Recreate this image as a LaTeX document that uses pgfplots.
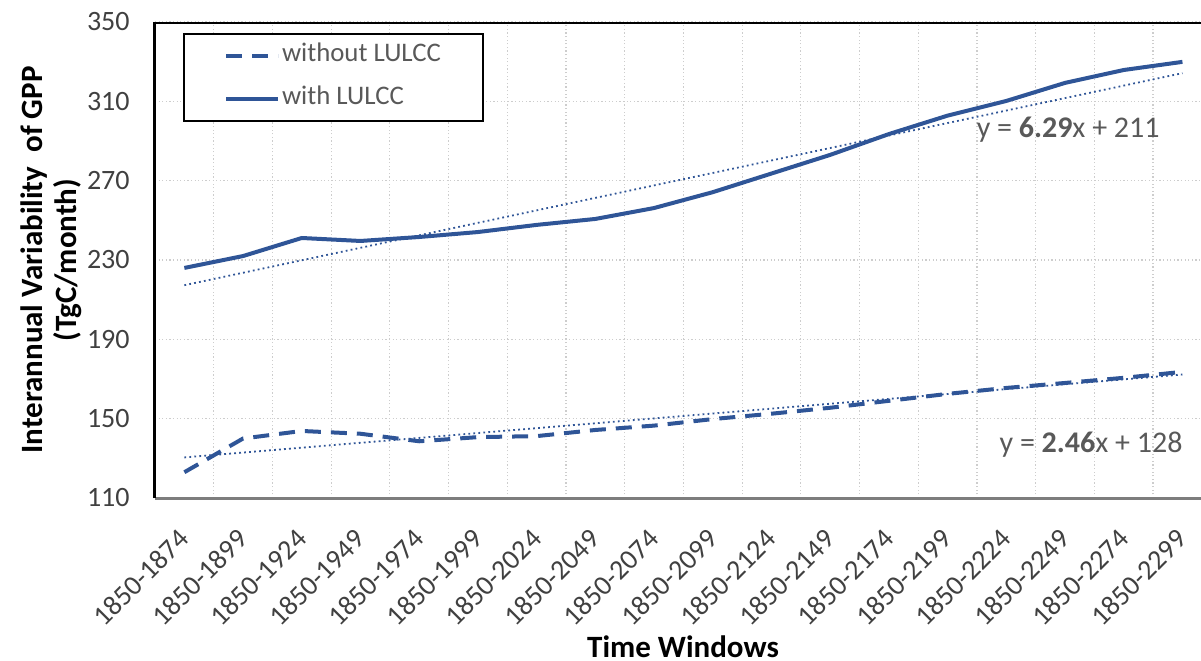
\documentclass[border=0pt]{standalone}
\usepackage{fontspec}
\setmainfont{Carlito}
\usepackage{pgfplots}
\pgfplotsset{compat=1.18}
\definecolor{lineblue}{RGB}{47,85,151}
\definecolor{txt}{RGB}{64,64,64}
\definecolor{eqgray}{RGB}{89,89,89}
\definecolor{gridgray}{RGB}{205,205,205}
\definecolor{axgray}{RGB}{125,125,125}

\pgfplotstableread{
x with without
0  226.0 123.0
1  232.0 140.0
2  241.1 143.8
3  239.6 142.4
4  241.6 138.6
5  244.1 140.7
6  247.7 141.2
7  250.7 144.3
8  256.2 146.5
9  264.2 149.8
10 273.6 152.5
11 283.0 155.5
12 293.5 159.0
13 302.8 162.5
14 310.2 165.5
15 319.3 168.0
16 325.8 170.6
17 329.9 173.6
}\gpp

\begin{document}
\begin{tikzpicture}
\begin{axis}[
  scale only axis, width=523pt, height=238pt,
  xmin=-0.5, xmax=17.316, ymin=110, ymax=350,
  axis x line=bottom, axis y line=left,
  x axis line style={draw=axgray, line width=1.5pt, -},
  y axis line style={draw=black, line width=1.5pt, -},
  xtick={0,...,17},
  xticklabels={1850-1874,1850-1899,1850-1924,1850-1949,1850-1974,1850-1999,
               1850-2024,1850-2049,1850-2074,1850-2099,1850-2124,1850-2149,
               1850-2174,1850-2199,1850-2224,1850-2249,1850-2274,1850-2299},
  minor xtick={0.5,1.5,...,16.5},
  ytick={110,150,...,350},
  major tick length=0pt, minor tick length=0pt,
  ymajorgrids, xminorgrids,
  grid style={draw=gridgray, line width=0.6pt, dash pattern=on 0.6pt off 1.2pt},
  minor grid style={draw=gridgray, line width=0.6pt, dash pattern=on 0.6pt off 1.2pt},
  tick label style={font=\fontsize{14}{16}\selectfont, text=txt},
  /pgf/number format/assume math mode=true,
  yticklabel style={inner sep=0pt, xshift=-12.5pt},
  xticklabel style={inner sep=0pt, yshift=-18pt, rotate=45, anchor=east},
  xlabel={Time Windows},
  xlabel style={at={(axis description cs:0.5048,-0.313)}, anchor=center,
                font=\fontsize{15.5}{18}\selectfont\bfseries},
  ylabel={Interannual Variability\ \ of GPP\\(TgC/month)},
  ylabel style={at={(axis description cs:-0.0994,0.5)}, anchor=center, align=center,
                font=\fontsize{15.5}{17}\selectfont\bfseries},
  legend style={at={(axis description cs:0.0268,0.977)}, anchor=north west,
                draw=black, line width=1pt, fill=white,
                font=\fontsize{13.4}{15}\selectfont, text=eqgray,
                inner xsep=20pt, inner ysep=5pt, row sep=9.5pt,
                nodes={inner xsep=1pt, inner ysep=0pt, text height=9pt, text depth=3pt}},
  legend cell align=left,
  legend image code/.code={\draw[#1] (0pt,0pt) -- (26pt,0pt);},
]
\coordinate (bl) at (rel axis cs:0,0);
\addplot[lineblue, line width=2pt, dash pattern=on 8pt off 5pt] table[x=x, y=without] {\gpp};
\addlegendentry{without LULCC}
\addplot[lineblue, line width=2pt, line join=round] table[x=x, y=with] {\gpp};
\addlegendentry{with LULCC}
% linear trends (y = 6.29x + 211 and y = 2.46x + 128, x = 1..18)
\addplot[forget plot, lineblue, line width=0.9pt, dash pattern=on 0.9pt off 1.6pt]
  coordinates {(0,217.29) (17,324.22)};
\addplot[forget plot, lineblue, line width=0.9pt, dash pattern=on 0.9pt off 1.6pt]
  coordinates {(0,130.46) (17,172.28)};
\node[anchor=west, inner sep=0pt, text=eqgray, font=\fontsize{15}{17}\selectfont]
  at (axis cs:13.49,295.6) {y = \textbf{6.29}x + 211};
\node[anchor=west, inner sep=0pt, text=eqgray, font=\fontsize{15}{17}\selectfont]
  at (axis cs:13.88,136.7) {y = \textbf{2.46}x + 128};
\draw[black, line width=1.5pt] (rel axis cs:0,1) -- (rel axis cs:1,1);
\end{axis}
\pgfresetboundingbox
\path[use as bounding box] ([shift={(-77.5pt,-81pt)}]bl) rectangle ([shift={(523pt,249pt)}]bl);
\end{tikzpicture}
\end{document}
